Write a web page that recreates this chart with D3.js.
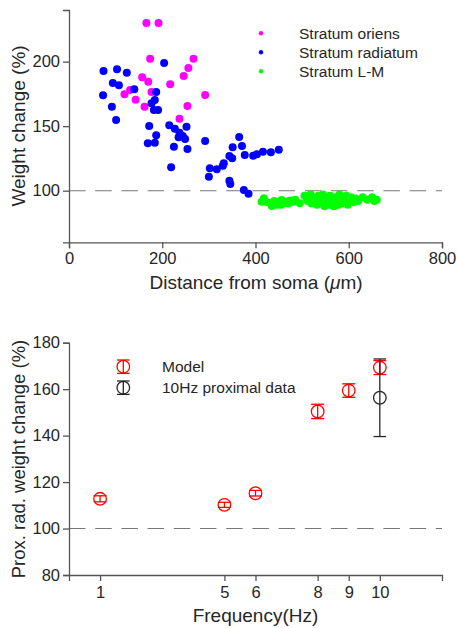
<!DOCTYPE html>
<html>
<head>
<meta charset="utf-8">
<script src="https://cdn.jsdelivr.net/npm/d3@7"></script>
<style>
  body { margin: 0; background: #fff; }
  svg { display: block; font-family: "Liberation Sans", Arial, sans-serif; }
  .axis path, .axis line { stroke: #555; stroke-width: 1.3; }
  .axis text { fill: #262626; font-size: 16.5px; }
</style>
</head>
<body>
<div id="chart"></div>
<script>
// top panel: distance from soma (um) vs weight change (%)
let oriensDist = [166, 192, 174, 267, 256, 246, 157, 170, 217, 131, 119, 177, 143, 292, 162, 254, 237];
let oriensW = [229.9, 229.9, 202.2, 202.2, 195.0, 188.8, 187.8, 184.4, 182.4, 178.0, 174.7, 176.5, 170.5, 174.1, 165.1, 165.6, 155.8];

let radiatumDist = [74, 103, 124, 204, 94, 107, 140, 73, 187, 184, 177, 182, 191, 92, 101, 172, 215, 227, 252,
  237, 244, 235, 249, 187, 169, 184, 225, 254, 292, 219, 300, 302, 317, 330, 332, 344, 350, 351, 365, 371,
  377, 395, 403, 416, 433, 450, 344, 346, 375, 385];
let radiatumW = [192.7, 194.0, 191.4, 198.9, 183.4, 181.6, 178.5, 173.9, 176.5, 170.3, 167.7, 162.5, 162.5, 165.1, 154.8, 150.1, 150.7, 148.0, 149.6,
  144.9, 142.4, 141.4, 140.0, 142.9, 136.7, 137.2, 134.1, 132.3, 138.5, 118.1, 110.8, 117.4, 116.6, 119.4, 121.2, 126.9, 125.1, 133.6, 141.6, 134.6,
  127.7, 127.1, 128.2, 130.2, 129.7, 131.8, 107.7, 105.2, 100.5, 97.7];

let lmDist = [413, 418, 425, 438, 435, 440, 445, 449, 455, 456, 460, 467, 470, 474, 481, 485, 495,
  505, 510, 512, 518, 520, 525, 528, 532, 535, 538, 540, 543, 545, 548, 550, 553, 555, 558, 560, 562,
  565, 568, 570, 572, 575, 578, 580, 583, 585, 588, 590, 595, 598, 600, 605, 610, 615, 620, 630, 640,
  650, 655, 660];
let lmW = [91.5, 94.1, 91.0, 90.2, 88.1, 92.0, 89.0, 90.7, 89.0, 92.8, 90.2, 91.5, 90.0, 92.3, 91.5, 93.0, 90.2,
  96, 94, 92, 97, 90, 95, 93, 89, 96, 92, 94, 90, 97, 88, 93, 95, 91, 89, 96, 92,
  94, 88, 90, 95, 93, 89, 97, 91, 94, 90, 92, 96, 89, 93, 95, 91, 94, 92, 95, 93,
  95, 92, 93];

let xTicksTop = [0, 200, 400, 600, 800];
let yTicksTop = [100, 150, 200];
let groupNames = ["Stratum oriens", "Stratum radiatum", "Stratum L-M"];
let groupColors = ["#ff00ff", "#0000ff", "#00ff00"];

// bottom panel: frequency vs proximal radiatum weight change
let freqs = [1, 5, 6, 8, 9, 10];
let modelW = [112.8, 110.2, 115.2, 150.4, 159.4, 169.3];
let modelErr = [1.3, 1.1, 1.2, 3.1, 2.9, 3.0];
let dataFreq = [10];
let dataW = [156.3];
let dataLo = [139.6];
let dataHi = [173.0];
let xTicksBot = [1, 5, 6, 8, 9, 10];
let yTicksBot = [80, 100, 120, 140, 160, 180];
let legendBot = ["Model", "10Hz proximal data"];
let legendBotColors = ["#ff0000", "#262626"];

let w = 457;
let h = 628;

let svg = d3
  .select("#chart")
  .append("svg")
  .attr("width", w)
  .attr("height", h);

// ---------- top chart ----------
let xTop = d3.scaleLinear().domain([0, 800]).range([69, 442]);
let yTop = d3.scaleLinear().domain([60, 240]).range([242.3, 10]);

svg
  .append("line")
  .attr("x1", xTop(0))
  .attr("x2", xTop(800))
  .attr("y1", yTop(100))
  .attr("y2", yTop(100))
  .attr("stroke", "#777")
  .attr("stroke-width", 1.1)
  .attr("stroke-dasharray", "16.5,9.7");

svg
  .append("g")
  .attr("class", "axis")
  .attr("transform", "translate(0," + yTop(60) + ")")
  .call(d3.axisBottom(xTop).tickValues(xTicksTop).tickSizeOuter(0).tickSize(6).tickPadding(4));

svg
  .append("g")
  .attr("class", "axis")
  .attr("transform", "translate(" + xTop(0) + ",0)")
  .call(d3.axisLeft(yTop).tickValues(yTicksTop).tickSizeOuter(0).tickSize(6).tickPadding(3));

let groups = [
  [oriensDist, oriensW],
  [radiatumDist, radiatumW],
  [lmDist, lmW]
];

groups.forEach(function(g, k) {
  let pts = g[0].map(function(d, i) {
    return [d, g[1][i]];
  });
  svg
    .append("g")
    .selectAll("circle")
    .data(pts)
    .enter()
    .append("circle")
    .attr("cx", function(d) {
      return xTop(d[0]);
    })
    .attr("cy", function(d) {
      return yTop(d[1]);
    })
    .attr("r", 4)
    .attr("fill", groupColors[k]);
});

// legend top
let legTop = svg.append("g");
groupNames.forEach(function(name, i) {
  let yy = 33.3 + i * 19;
  legTop
    .append("circle")
    .attr("cx", 261)
    .attr("cy", yy)
    .attr("r", 2.2)
    .attr("fill", groupColors[i]);
  legTop
    .append("text")
    .attr("x", 299)
    .attr("y", yy + 5.5)
    .attr("font-size", 15.5)
    .attr("fill", "#262626")
    .text(name);
});

svg
  .append("text")
  .attr("transform", "translate(25,126) rotate(-90)")
  .attr("text-anchor", "middle")
  .attr("font-size", 19)
  .attr("fill", "#262626")
  .text("Weight change (%)");

let xl = svg
  .append("text")
  .attr("x", 256)
  .attr("y", 289.3)
  .attr("text-anchor", "middle")
  .attr("font-size", 19)
  .attr("fill", "#262626");
xl.append("tspan").text("Distance from soma (");
xl.append("tspan").attr("font-style", "italic").text("\u03bc");
xl.append("tspan").text("m)");

// ---------- bottom chart ----------
let xBot = d3.scaleLinear().domain([0, 12]).range([69, 442]);
let yBot = d3.scaleLinear().domain([80, 180]).range([575, 342.7]);

svg
  .append("line")
  .attr("x1", xBot(0))
  .attr("x2", xBot(12))
  .attr("y1", yBot(100))
  .attr("y2", yBot(100))
  .attr("stroke", "#777")
  .attr("stroke-width", 1.1)
  .attr("stroke-dasharray", "16.5,9.7");

svg
  .append("g")
  .attr("class", "axis")
  .attr("transform", "translate(0," + yBot(80) + ")")
  .call(d3.axisBottom(xBot).tickValues(xTicksBot).tickSizeOuter(0).tickSize(6).tickPadding(5));

svg
  .append("g")
  .attr("class", "axis")
  .attr("transform", "translate(" + xBot(0) + ",0)")
  .call(d3.axisLeft(yBot).tickValues(yTicksBot).tickSizeOuter(0).tickSize(6).tickPadding(3));

function errMark(g, cx, cy, lo, hi, color, cap) {
  g.append("line")
    .attr("x1", cx).attr("x2", cx)
    .attr("y1", lo).attr("y2", hi)
    .attr("stroke", color).attr("stroke-width", 1.3);
  [lo, hi].forEach(function(yy) {
    g.append("line")
      .attr("x1", cx - cap).attr("x2", cx + cap)
      .attr("y1", yy).attr("y2", yy)
      .attr("stroke", color).attr("stroke-width", 1.3);
  });
  g.append("circle")
    .attr("cx", cx).attr("cy", cy)
    .attr("r", 6.3)
    .attr("fill", "none")
    .attr("stroke", color)
    .attr("stroke-width", 1.3);
}

let marks = svg.append("g");
freqs.forEach(function(f, i) {
  errMark(marks, xBot(f), yBot(modelW[i]), yBot(modelW[i] - modelErr[i]), yBot(modelW[i] + modelErr[i]), "#ff0000", 6.5);
});
dataFreq.forEach(function(f, i) {
  errMark(marks, xBot(f), yBot(dataW[i]), yBot(dataLo[i]), yBot(dataHi[i]), "#262626", 6.3);
});

// legend bottom
let legBot = svg.append("g");
legendBot.forEach(function(name, i) {
  let yy = 366.7 + i * 21;
  errMark(legBot, 123.3, yy, yy + 6.7, yy - 6.7, legendBotColors[i], 6.3);
  legBot
    .append("text")
    .attr("x", 162)
    .attr("y", yy + 5.5)
    .attr("font-size", 15.5)
    .attr("fill", "#262626")
    .text(name);
});

svg
  .append("text")
  .attr("transform", "translate(25,459) rotate(-90)")
  .attr("text-anchor", "middle")
  .attr("font-size", 18.5)
  .attr("fill", "#262626")
  .text("Prox. rad. weight change (%)");

svg
  .append("text")
  .attr("x", 255.5)
  .attr("y", 621.7)
  .attr("text-anchor", "middle")
  .attr("font-size", 19)
  .attr("fill", "#262626")
  .text("Frequency(Hz)");
</script>
</body>
</html>
